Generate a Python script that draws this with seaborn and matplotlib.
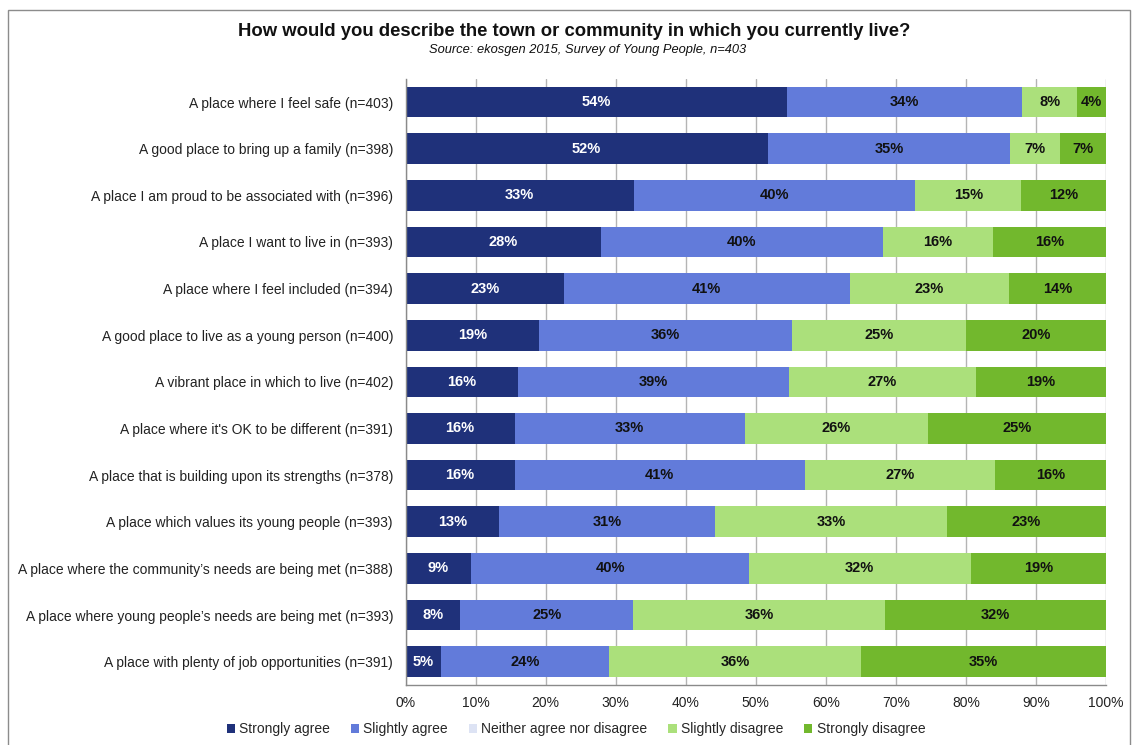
import matplotlib
matplotlib.use("Agg")
import matplotlib.pyplot as plt
from matplotlib.patches import Patch, Rectangle
from matplotlib.ticker import PercentFormatter, FixedLocator, MultipleLocator
import numpy as np
import pandas as pd
import seaborn as sns

# Survey statements (top to bottom)
statements = [
    "A place where I feel safe (n=403)",
    "A good place to bring up a family (n=398)",
    "A place I am proud to be associated with (n=396)",
    "A place I want to live in (n=393)",
    "A place where I feel included (n=394)",
    "A good place to live as a young person (n=400)",
    "A vibrant place in which to live (n=402)",
    "A place where it's OK to be different (n=391)",
    "A place that is building upon its strengths (n=378)",
    "A place which values its young people (n=393)",
    "A place where the community\u2019s needs are being met (n=388)",
    "A place where young people\u2019s needs are being met (n=393)",
    "A place with plenty of job opportunities (n=391)",
]

# Share of responses (%) for each answer
strongly_agree = [54.4, 51.7, 32.6, 27.9, 22.6, 19.1, 16.1, 15.6, 15.6, 13.4, 9.4, 7.8, 5.0]
slightly_agree = [33.6, 34.6, 40.2, 40.2, 40.8, 36.1, 38.6, 32.8, 41.4, 30.8, 39.6, 24.7, 24.1]
neither = [0.0] * 13
slightly_disagree = [7.9, 7.1, 15.1, 15.8, 22.7, 24.8, 26.7, 26.2, 27.1, 33.1, 31.7, 35.9, 35.9]
strongly_disagree = [4.1, 6.6, 12.1, 16.1, 13.9, 20.0, 18.6, 25.4, 15.9, 22.7, 19.3, 31.6, 35.0]

series_names = ["Strongly agree", "Slightly agree", "Neither agree nor disagree",
                "Slightly disagree", "Strongly disagree"]
series_colors = ["#1F317A", "#627BDA", "#DDE3F4", "#ABE07B", "#72B82D"]
label_colors = ["white", "#111111", "#111111", "#111111", "#111111"]

sns.set_style("white")
plt.rcParams["font.family"] = ["Liberation Sans", "DejaVu Sans"]

values = pd.DataFrame({
    "Strongly agree": strongly_agree,
    "Slightly agree": slightly_agree,
    "Neither agree nor disagree": neither,
    "Slightly disagree": slightly_disagree,
    "Strongly disagree": strongly_disagree,
}, index=statements)
cumulative = values.cumsum(axis=1)
plot_df = cumulative.reset_index().rename(columns={"index": "statement"})

W, H = 1134, 745
fig = plt.figure(figsize=(W / 100, H / 100), dpi=100)
fig.patch.set_facecolor("white")
ax = fig.add_axes([405.5 / W, 1 - 685 / H, 700.5 / W, (685 - 78.7) / H])

# Stacked bars: draw cumulative totals from the last answer back to the first
for name, color in reversed(list(zip(series_names, series_colors))):
    sns.barplot(data=plot_df, x=name, y="statement", orient="h", order=statements,
                color=color, saturation=1, width=0.657, errorbar=None,
                linewidth=0, ax=ax)

# Segment value labels
for i, stmt in enumerate(statements):
    for name, lc in zip(series_names, label_colors):
        v = values.loc[stmt, name]
        if v <= 0:
            continue
        centre = cumulative.loc[stmt, name] - v / 2
        ax.text(centre, i, f"{v:.0f}%", ha="center", va="center",
                fontsize=10.5, fontweight="bold", color=lc)

ax.set_xlim(0, 100)
ax.set_ylim(len(statements) - 0.5, -0.5)
ax.set_xlabel("")
ax.set_ylabel("")
ax.xaxis.set_major_locator(MultipleLocator(10))
ax.xaxis.set_major_formatter(PercentFormatter(100, decimals=0))

ax.set_axisbelow(True)
ax.xaxis.grid(True, color="#B4B4B4", linewidth=1)
ax.yaxis.grid(False)

for side in ["top", "right"]:
    ax.spines[side].set_visible(False)
for side in ["left", "bottom"]:
    ax.spines[side].set_color("#8A8A8A")
    ax.spines[side].set_linewidth(1)

ax.tick_params(axis="x", length=5, width=1, color="#8A8A8A", pad=3,
               labelsize=10, labelcolor="#222222")
ax.tick_params(axis="y", which="major", length=0, pad=9,
               labelsize=10, labelcolor="#222222")
ax.yaxis.set_minor_locator(FixedLocator(np.arange(-0.5, len(statements), 1.0)))
ax.tick_params(axis="y", which="minor", length=5, width=1, color="#8A8A8A")

# Title and source line
fig.text(574 / W, 1 - 32 / H,
         "How would you describe the town or community in which you currently live?",
         ha="center", va="center", fontsize=13.3, fontweight="bold", color="#111111")
fig.text(588 / W, 1 - 50 / H, "Source: ekosgen 2015, Survey of Young People, n=403",
         ha="center", va="center", fontsize=9.3, style="italic", color="#111111")

# Legend along the bottom
handles = [Patch(facecolor=c, edgecolor="none") for c in series_colors]
fig.legend(handles, series_names, loc="center", bbox_to_anchor=(576 / W, 1 - 729 / H),
           ncol=5, frameon=False, fontsize=10, handlelength=0.6, handleheight=0.6,
           handletextpad=0.3, columnspacing=1.5)

# Chart frame
fig.add_artist(Rectangle((8 / W, -0.1), (1130 - 8) / W, 1.1 - 10 / H,
                         transform=fig.transFigure, fill=False,
                         edgecolor="#8C8C8C", linewidth=1))

fig.savefig("out.png", dpi=100, facecolor="white")
